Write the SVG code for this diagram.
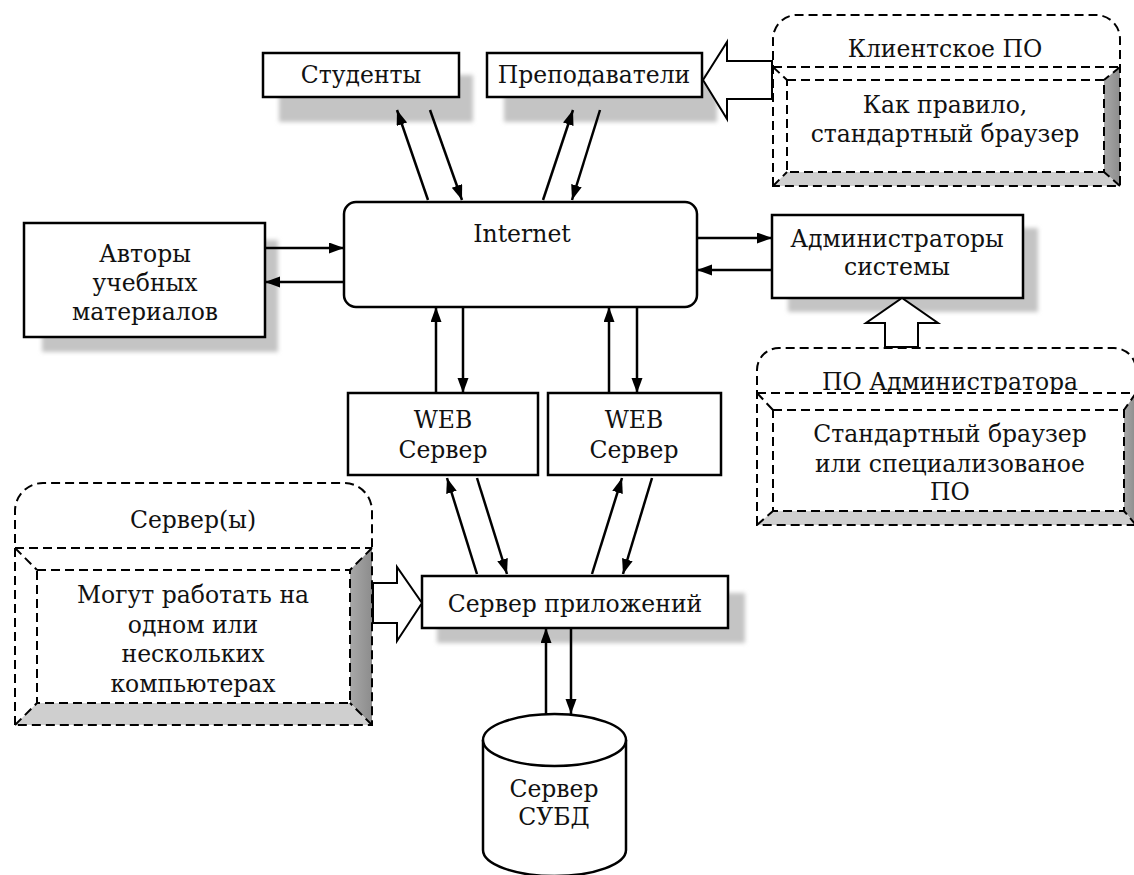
<svg xmlns="http://www.w3.org/2000/svg" width="1134" height="875" viewBox="0 0 1134 875">
<style>
text{font-family:"DejaVu Serif","Liberation Serif",serif;font-size:23.5px;fill:#111;text-anchor:middle}
.box{fill:#fff;stroke:#000;stroke-width:2.5}
.shadow{fill:#c4c4c4;filter:url(#blur)}
.dash{fill:none;stroke:#000;stroke-width:2;stroke-dasharray:9 5}
.wh{fill:#fff}
.rb{fill:url(#gr)}
.bb{fill:#cfcfcf}
.con line{stroke:#000;stroke-width:2.5;marker-end:url(#ah)}
.block{fill:#fff;stroke:#000;stroke-width:2;stroke-linejoin:miter}
</style>
<defs>
<filter id="blur" x="-10%" y="-10%" width="120%" height="120%"><feGaussianBlur stdDeviation="2"/></filter>
<linearGradient id="gr" x1="0" y1="0" x2="1" y2="0"><stop offset="0" stop-color="#a8a8a8"/><stop offset="1" stop-color="#8c8c8c"/></linearGradient>
<marker id="ah" markerUnits="userSpaceOnUse" markerWidth="16" markerHeight="12" refX="15" refY="5.5" orient="auto"><path d="M0,0 L15,5.5 L0,11 z" fill="#000"/></marker>
</defs>
<rect width="1134" height="875" fill="#fff"/>

<g id="students">
<rect class="shadow" x="279" y="75" width="194" height="47"/>
<rect class="box" x="263" y="53" width="196" height="44"/>
<text x="361" y="83">Студенты</text>
</g>

<g id="teachers">
<rect class="shadow" x="504" y="75" width="213" height="47"/>
<rect class="box" x="487" y="53" width="215" height="44"/>
<text x="594" y="83">Преподаватели</text>
</g>

<g id="client-po">
<text x="945" y="57">Клиентское ПО</text>
<text x="945" y="113">Как правило,</text>
<text x="945" y="142">стандартный браузер</text>
<polygon class="rb" points="1104,80 1120,67 1120,186 1104,172"/>
<polygon class="bb" points="787,172 1104,172 1120,186 773,186"/>
<path class="dash" d="M773,186 L773,39 A24,24 0 0 1 797,15 L1096,15 A24,24 0 0 1 1120,39 L1120,186 Z"/>
<path class="dash" d="M773,67 L1120,67 M773,67 L787,80 M1120,67 L1104,80 M773,186 L787,172 M1120,186 L1104,172"/>
<rect class="dash" x="787" y="80" width="317" height="92"/>
</g>

<g id="internet">
<rect class="box" x="344" y="202" width="353" height="105" rx="12"/>
<text x="522" y="242">Internet</text>
</g>

<g id="authors">
<rect class="shadow" x="42" y="240" width="236" height="112"/>
<rect class="box" x="24" y="223" width="241" height="114"/>
<text x="145" y="262">Авторы</text>
<text x="145" y="291">учебных</text>
<text x="145" y="320">материалов</text>
</g>

<g id="admins">
<rect class="shadow" x="788" y="228" width="250" height="84"/>
<rect class="box" x="772" y="215" width="251" height="83"/>
<text x="897" y="247">Администраторы</text>
<text x="897" y="275">системы</text>
</g>

<g id="admin-po">
<text x="950" y="390">ПО Администратора</text>
<text x="950" y="442">Стандартный браузер</text>
<text x="950" y="472">или специализованое</text>
<text x="950" y="500">ПО</text>
<polygon class="wh" points="757,394 1136,394 1124,410 773,410"/>
<polygon class="rb" points="1124,410 1136,393 1136,525 1124,511"/>
<polygon class="bb" points="773,511 1124,511 1136,525 757,525"/>
<path class="dash" d="M757,525 L757,370 A22,22 0 0 1 779,348 L1114,348 A22,22 0 0 1 1136,370 L1136,525 Z"/>
<path class="dash" d="M757,393 L1136,393 M757,393 L773,410 M1136,393 L1124,410 M757,525 L773,511 M1136,525 L1124,511"/>
<rect class="dash" x="773" y="410" width="351" height="101"/>
</g>

<g id="web1">
<rect class="box" x="348" y="393" width="190" height="82"/>
<text x="443" y="428">WEB</text>
<text x="443" y="458">Сервер</text>
</g>

<g id="web2">
<rect class="box" x="548" y="393" width="173" height="82"/>
<text x="634" y="428">WEB</text>
<text x="634" y="458">Сервер</text>
</g>

<g id="servers">
<text x="193" y="528">Сервер(ы)</text>
<text x="193" y="603">Могут работать на</text>
<text x="193" y="633">одном или</text>
<text x="193" y="662">нескольких</text>
<text x="193" y="692">компьютерах</text>
<polygon class="rb" points="350,570 372,548 372,725 350,703"/>
<polygon class="bb" points="37,703 350,703 372,725 15,725"/>
<path class="dash" d="M15,725 L15,511 A28,28 0 0 1 43,483 L344,483 A28,28 0 0 1 372,511 L372,725 Z"/>
<path class="dash" d="M15,548 L372,548 M15,548 L37,570 M372,548 L350,570 M15,725 L37,703 M372,725 L350,703"/>
<rect class="dash" x="37" y="570" width="313" height="133"/>
</g>

<g id="app-server">
<rect class="shadow" x="437" y="593" width="308" height="50"/>
<rect class="box" x="422" y="576" width="306" height="52"/>
<text x="575" y="612">Сервер приложений</text>
</g>

<g id="dbms">
<path class="box" d="M483,740 L483,850 A71.5,26 0 0 0 626,850 L626,740"/>
<ellipse class="box" cx="554.5" cy="740" rx="71.5" ry="26"/>
<text x="554" y="797">Сервер</text>
<text x="554" y="825">СУБД</text>
</g>

<g id="connectors" class="con">
<line x1="428" y1="200" x2="397" y2="110"/>
<line x1="430" y1="110" x2="462" y2="200"/>
<line x1="543" y1="200" x2="573" y2="110"/>
<line x1="600" y1="110" x2="572" y2="200"/>
<line x1="265" y1="248" x2="344" y2="248"/>
<line x1="344" y1="282" x2="265" y2="282"/>
<line x1="697" y1="238" x2="772" y2="238"/>
<line x1="772" y1="270" x2="697" y2="270"/>
<line x1="436" y1="393" x2="436" y2="307"/>
<line x1="463" y1="307" x2="463" y2="393"/>
<line x1="609" y1="393" x2="609" y2="307"/>
<line x1="637" y1="307" x2="637" y2="393"/>
<line x1="477" y1="574" x2="447" y2="478"/>
<line x1="477" y1="478" x2="507" y2="574"/>
<line x1="592" y1="574" x2="622" y2="478"/>
<line x1="652" y1="478" x2="623" y2="574"/>
<line x1="546" y1="714" x2="546" y2="628"/>
<line x1="571" y1="628" x2="571" y2="714"/>
<polygon class="block" points="772,61 727,61 727,42 703,80 727,119 727,99 772,99"/>
<polygon class="block" points="885,347 885,323 866,323 902,298 938,323 918,323 918,347"/>
<polygon class="block" points="373,583 397,583 397,567 422,603 397,641 397,623 373,623"/>
</g>
</svg>
